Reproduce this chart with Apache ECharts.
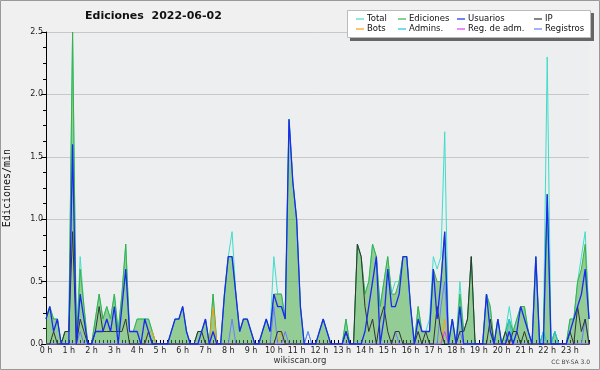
<!DOCTYPE html>
<html><head><meta charset="utf-8">
<script src="https://cdn.jsdelivr.net/npm/echarts@6/dist/echarts.min.js"></script>
<style>html,body{margin:0;padding:0;background:#f0f0f0}#c{width:600px;height:370px}</style>
</head><body><div id="c"></div>
<script>
// 10-minute bins, 0h..23h50
const hours = Array.from({length:144},(_,i)=>String(i));
const yTicks = [0,0.5,1,1.5,2,2.5];
const legendNames = ['Total','Ediciones','Usuarios','IP','Bots','Admins.','Reg. de adm.','Registros'];

const total = [
 .2,.3,.2,.2,0,.1,.1,2.5,0,.7,.3,0,
 0,.2,.4,.2,.3,.2,.4,.1,.4,.8,.1,.1,
 .2,.2,.2,.2,.1,0,0,0,0,.1,.2,.2,
 .3,.1,0,0,.1,.1,.2,0,.4,0,0,.4,
 .7,.9,.4,.1,.2,.2,.1,0,0,.1,.2,.1,
 .7,.4,.4,.2,1.8,1.3,1.0,.3,0,.1,0,0,
 .1,.2,.1,0,0,0,0,.2,0,0,.8,.7,
 .4,.5,.8,.7,.3,.5,.7,.4,.5,.5,.7,.7,
 .3,0,.3,.1,.1,.2,.7,.6,.7,1.7,0,.2,
 0,.5,.1,.2,.7,0,0,0,.4,.3,0,.2,
 0,.1,.3,.1,.2,.3,.3,.1,0,.7,0,.1,
 2.3,0,.1,0,0,0,.2,.2,.5,.7,.9,.2];
const edits = [
 .2,.3,.2,.2,0,.1,.1,2.5,0,.6,.3,0,
 0,.2,.4,.2,.3,.2,.4,.1,.4,.8,.1,.1,
 .2,.2,.2,.2,.1,0,0,0,0,.1,.2,.2,
 .3,.1,0,0,.1,.1,.2,0,.4,0,0,.4,
 .7,.7,.4,.1,.2,.2,.1,0,0,.1,.2,.1,
 .4,.4,.4,.2,1.8,1.3,1.0,.3,0,0,0,0,
 .1,.2,.1,0,0,0,0,.2,0,0,.8,.7,
 .4,.5,.8,.7,.3,.5,.7,.4,.4,.5,.7,.7,
 .3,0,.3,.1,.1,.1,.6,.5,.5,.9,0,.2,
 0,.4,.1,.2,.7,0,0,0,.4,.3,0,.2,
 0,.1,.2,.1,.2,.3,.3,.1,0,.7,0,.1,
 1.2,0,.1,0,0,0,.2,.2,.5,.6,.8,.2];
const users = [
 .2,.3,.1,.2,0,0,0,1.6,0,.4,.2,0,
 0,.1,.1,.1,.2,.1,.3,0,.3,.6,.1,.1,
 .1,0,.2,.1,0,0,0,0,0,.1,.2,.2,
 .3,.1,0,0,0,.1,.2,0,.1,0,0,.4,
 .7,.7,.4,.1,.2,.2,.1,0,0,.1,.2,.1,
 .4,.3,.3,.2,1.8,1.3,1.0,.3,0,0,0,0,
 .1,.2,.1,0,0,0,0,.1,0,0,0,0,
 .1,.3,.5,.7,0,.2,.6,.3,.3,.4,.7,.7,
 .3,0,.2,.1,.1,.1,.6,.2,.5,.9,0,.2,
 0,.3,0,0,0,0,0,0,.4,.1,0,.2,
 0,0,.1,0,.1,.3,.2,.1,0,.7,0,0,
 1.2,0,0,0,0,0,.1,.2,.3,.4,.6,.2];
const ip = [
 0,0,.1,0,0,.1,.1,.9,0,.2,.1,0,
 0,.1,.3,.1,.1,.1,.1,.1,.1,.2,0,0,
 0,0,0,.1,0,0,0,0,0,0,0,0,
 0,0,0,0,.1,.1,0,0,0,0,0,0,
 0,0,0,0,0,0,0,0,0,0,0,0,
 0,.1,.1,0,0,0,0,0,0,0,0,0,
 0,0,0,0,0,0,0,.1,0,0,.8,.7,
 .3,.1,.2,0,.2,.3,.1,0,.1,.1,0,0,
 0,0,.1,0,.1,0,0,.3,.1,0,0,0,
 0,.1,.1,.2,.7,0,0,0,0,.2,0,0,
 0,.1,0,.1,.1,0,.1,0,0,0,0,0,
 0,0,0,0,0,0,.1,0,.3,.1,.2,0];
const bots = [
 0,0,0,0,0,0,0,0,0,0,0,0,
 0,0,0,0,0,0,0,0,0,0,0,0,
 0,0,0,.1,.1,0,0,0,0,0,0,0,
 0,0,0,0,0,0,0,0,.3,0,0,0,
 0,0,0,0,0,0,0,0,0,0,0,0,
 0,0,.1,0,0,0,0,0,0,0,0,0,
 0,0,0,0,0,0,0,0,0,0,0,0,
 0,0,0,0,0,0,0,0,0,0,0,0,
 0,0,0,0,0,0,0,0,0,.2,0,0,
 0,0,0,0,0,0,0,0,0,0,0,0,
 0,0,0,0,0,0,0,0,0,0,0,0,
 0,0,0,0,0,0,0,0,0,0,0,0];
const admins = [
 0,0,0,0,0,0,0,0,0,0,0,0,
 0,0,0,0,0,0,0,0,0,0,0,0,
 0,0,0,0,0,0,0,0,0,0,0,0,
 0,0,0,0,0,0,0,0,0,0,0,0,
 0,0,0,0,0,0,0,0,0,0,0,0,
 0,0,0,0,0,0,0,0,0,0,0,0,
 0,0,0,0,0,0,0,0,0,0,0,0,
 0,0,0,0,0,0,0,0,0,0,0,0,
 0,0,0,0,0,0,0,0,0,0,0,0,
 0,0,0,0,0,0,0,0,0,0,0,0,
 0,0,.2,0,0,0,0,0,0,0,0,.1,
 0,0,.1,0,0,0,0,0,0,0,0,0];
const regAdm = [
 0,0,0,0,0,0,0,0,0,0,0,0,
 0,0,0,0,0,0,0,0,0,0,0,0,
 0,0,0,0,0,0,0,0,0,0,0,0,
 0,0,0,0,0,0,0,0,0,0,0,0,
 0,0,0,0,0,0,0,0,0,0,0,0,
 0,0,0,0,0,0,0,0,0,0,0,0,
 0,0,0,0,0,0,0,0,0,0,0,0,
 0,0,0,0,0,0,0,0,0,0,0,0,
 0,0,0,0,0,0,0,0,0,.1,0,0,
 0,0,0,0,0,0,0,0,0,0,0,0,
 0,0,0,0,0,0,0,0,0,0,0,0,
 0,0,0,0,0,0,0,0,0,0,0,0];
const registros = [
 0,0,0,0,0,0,0,0,0,.1,0,0,
 0,0,0,0,0,0,0,0,0,0,0,0,
 0,0,0,0,0,0,0,0,0,0,0,0,
 0,0,0,0,0,0,0,0,0,0,0,0,
 0,.2,0,0,0,0,0,0,0,0,0,0,
 .3,0,0,.1,0,0,0,0,0,.1,0,0,
 0,0,0,0,0,0,0,0,0,0,0,0,
 0,0,0,0,0,0,0,0,.1,0,0,0,
 0,0,0,0,0,0,0,0,.3,.5,0,0,
 0,.1,0,0,0,0,0,0,0,0,0,0,
 0,0,.1,0,0,0,0,0,0,0,0,0,
 0,0,0,0,0,0,0,0,0,0,.2,0];

const colors = {
 'Total':'#40dcc8','Ediciones':'#3cb043','Usuarios':'#1a2af0','IP':'#333333',
 'Bots':'#f0a020','Admins.':'#20c4e8','Reg. de adm.':'#e040f0','Registros':'#6a7cff'
};
const F = 'DejaVu Sans';
function line(name, data, extra){
  return Object.assign({name, type:'line', data, symbol:'none', smooth:false,
    itemStyle:{color:colors[name]}, lineStyle:{color:colors[name], width:1}}, extra||{});
}
const series = [
 line('Total', total),
 line('Ediciones', edits, {areaStyle:{color:'rgba(60,170,60,0.5)', opacity:1}}),
 line('Bots', bots),
 line('Admins.', admins),
 line('Reg. de adm.', regAdm),
 line('Registros', registros),
 line('IP', ip),
 line('Usuarios', users, {lineStyle:{color:colors['Usuarios'], width:1.3}})
];
function leg(left, names){
  return {left, top:14, orient:'vertical', data:names, icon:'rect', itemWidth:8, itemHeight:1.2,
    itemGap:0, padding:0, textStyle:{fontFamily:F, fontSize:8.5, color:'#111', lineHeight:10, padding:[0,0,0,-2]}};
}
const chart = echarts.init(document.getElementById('c'), null, {renderer:'canvas'});
chart.setOption({
  backgroundColor:'#f0f0f0',
  animation:false,
  title:{text:'Ediciones  2022-06-02', left:85, top:11, padding:0,
    textStyle:{fontFamily:F, fontSize:11, fontWeight:'bold', color:'#111'}},
  legend:[leg(356,['Total','Bots']), leg(398,['Ediciones','Admins.']),
          leg(457,['Usuarios','Reg. de adm.']), leg(534,['IP','Registros'])],
  grid:{left:46, right:11, top:32, bottom:26, containLabel:false, outerBoundsMode:'none',
    show:true, backgroundColor:'#eceef0', borderWidth:0},
  xAxis:{type:'category', data:hours, boundaryGap:false,
    axisLine:{lineStyle:{color:'#000', width:1}},
    axisTick:{interval:0, inside:true, length:4, lineStyle:{color:'#000'}},
    axisLabel:{interval:5, formatter:(v,i)=> (Number(v)/6)+' h', fontFamily:F, fontSize:8, color:'#222', margin:3},
    splitLine:{show:false}},
  yAxis:{type:'value', min:yTicks[0], max:yTicks[yTicks.length-1], interval:0.5,
    name:'Ediciones/min', nameLocation:'middle', nameRotate:90, nameGap:34,
    nameTextStyle:{fontFamily:'DejaVu Sans Mono', fontSize:10, color:'#111'},
    axisLine:{show:true, lineStyle:{color:'#000'}},
    axisTick:{show:true, length:5, lineStyle:{color:'#000'}},
    minorTick:{show:true, splitNumber:4, length:3, lineStyle:{color:'#000'}},
    axisLabel:{formatter:v=>v.toFixed(1), fontFamily:F, fontSize:8, color:'#222', margin:3},
    splitLine:{lineStyle:{color:'#c8c8c8', width:1}}},
  graphic:[
    {type:'rect', shape:{x:0.5,y:0.5,width:599,height:369}, style:{fill:'none', stroke:'#999', lineWidth:1}, z:0},
    {type:'rect', shape:{x:350,y:13,width:244,height:28}, style:{fill:'#666'}, z:0},
    {type:'rect', shape:{x:347.5,y:10.5,width:243,height:27}, style:{fill:'#fff', stroke:'#bbb', lineWidth:1}, z:1},
    {type:'text', x:300, y:361, style:{text:'wikiscan.org', fill:'#333', font:'8.5px "DejaVu Sans"', textAlign:'center', textVerticalAlign:'middle'}, z:5},
    {type:'text', x:590, y:362, style:{text:'CC BY-SA 3.0', fill:'#444', font:'6px "DejaVu Sans"', textAlign:'right', textVerticalAlign:'middle'}, z:5}
  ],
  series
});
</script></body></html>
